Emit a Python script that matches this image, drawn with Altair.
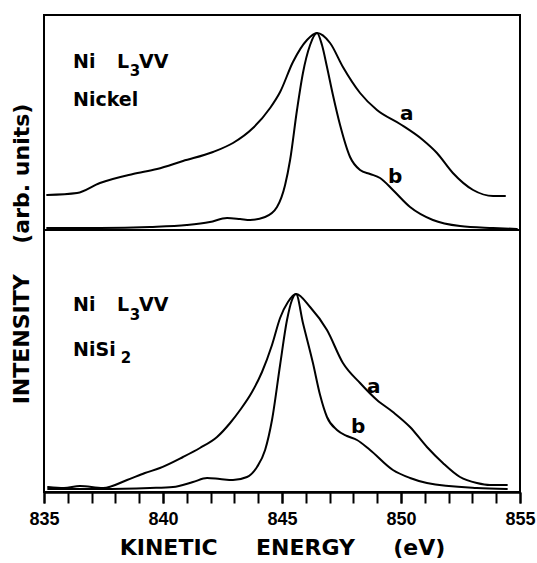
import altair as alt
import pandas as pd

# ---------------- data (intensity in arbitrary units) ----------------
# Top panel: Nickel
ni_a_energy = [835.13, 836.39, 837.35, 838.74, 839.75, 840.84, 842.10, 842.94, 843.78, 844.50,
               844.92, 845.46, 846.05, 846.47, 847.02, 847.56, 848.28, 848.99, 849.96, 850.92,
               851.51, 852.18, 853.03, 853.87, 854.37]
ni_a_int = [35, 37, 47, 56, 61, 69, 78, 87, 102, 122,
            138, 168, 190, 197, 187, 163, 137, 120, 106, 90,
            77, 57, 40, 34, 34]

ni_b_energy = [835.13, 837.35, 839.45, 841.00, 841.97, 842.69, 843.24, 843.66, 844.29, 844.79,
               845.13, 845.34, 845.63, 845.88, 846.18, 846.47, 846.68, 846.89, 847.14, 847.44,
               847.86, 848.28, 848.70, 849.12, 849.66, 850.38, 851.34, 852.48, 853.87, 854.87]
ni_b_int = [2, 2, 3, 5, 8, 12, 11, 10, 13, 23,
            45, 70, 120, 157, 185, 197, 185, 163, 135, 105,
            73, 60, 56, 52, 40, 23, 10, 4, 2, 1]

# Bottom panel: NiSi2
si_a_energy = [835.17, 835.84, 836.51, 837.48, 838.49, 839.24, 839.87, 840.84, 841.55, 842.27,
               842.82, 843.24, 843.74, 844.16, 844.58, 844.92, 845.25, 845.59, 846.18, 846.89,
               847.56, 848.28, 848.99, 849.66, 850.38, 851.09, 851.76, 852.48, 853.19, 853.74,
               854.45]
si_a_int = [5, 4, 6, 4, 12, 19, 24, 35, 44, 55,
            69, 82, 100, 120, 147, 174, 190, 198, 185, 162,
            129, 109, 92, 80, 65, 45, 29, 15, 9, 7,
            7]

si_b_energy = [835.17, 837.35, 839.45, 840.42, 841.26, 841.85, 842.39, 842.94, 843.53, 843.95,
               844.29, 844.58, 844.92, 845.21, 845.42, 845.59, 845.88, 846.30, 846.60, 846.89,
               847.31, 847.73, 848.15, 848.70, 849.66, 850.38, 851.09, 853.19, 854.45]
si_b_int = [3, 3, 4, 5, 10, 14, 13, 12, 15, 25,
            42, 72, 127, 172, 192, 198, 169, 129, 97, 75,
            62, 56, 52, 42, 22, 14, 9, 4, 3]

# Annotations (energy, intensity within panel)
lab_text = ["Ni", "L", "VV", "Nickel", "Ni", "L", "VV", "NiSi"]
lab_panel = ["Nickel", "Nickel", "Nickel", "Nickel", "NiSi2", "NiSi2", "NiSi2", "NiSi2"]
lab_energy = [836.22, 838.07, 838.99, 836.22, 836.22, 838.07, 838.99, 836.22]
lab_int = [168, 168, 168, 130, 187, 187, 187, 142]

sub_text = ["3", "3", "2"]
sub_panel = ["Nickel", "NiSi2", "NiSi2"]
sub_energy = [838.60, 838.60, 838.22]
sub_int = [159, 177, 134]

curve_text = ["a", "b", "a", "b"]
curve_panel = ["Nickel", "Nickel", "NiSi2", "NiSi2"]
curve_energy = [849.96, 849.45, 848.57, 847.90]
curve_int = [110, 47, 99, 59]

major_ticks = [835, 840, 845, 850, 855]
minor_ticks = list(range(835, 856))

PANEL_OFFSET = 262   # top panel baseline on the shared intensity axis
Y_MAX = 477
X_DOMAIN = [835, 855]

rows = []
for panel, curve, E, I in [("Nickel", "a", ni_a_energy, ni_a_int),
                           ("Nickel", "b", ni_b_energy, ni_b_int),
                           ("NiSi2", "a", si_a_energy, si_a_int),
                           ("NiSi2", "b", si_b_energy, si_b_int)]:
    for e, i in zip(E, I):
        rows.append({"panel": panel, "curve": curve, "energy": e, "intensity": i})
df = pd.DataFrame(rows)

lab_df = pd.DataFrame({"text": lab_text, "panel": lab_panel, "energy": lab_energy, "intensity": lab_int})
sub_df = pd.DataFrame({"text": sub_text, "panel": sub_panel, "energy": sub_energy, "intensity": sub_int})
cur_df = pd.DataFrame({"text": curve_text, "panel": curve_panel, "energy": curve_energy, "intensity": curve_int})

offset_expr = f"datum.intensity + (datum.panel == 'Nickel' ? {PANEL_OFFSET} : 0)"
x_scale = alt.Scale(domain=X_DOMAIN, nice=False, zero=False)
y_scale = alt.Scale(domain=[0, Y_MAX], nice=False, zero=False)

y_axis = alt.Axis(
    title="INTENSITY\u00a0\u00a0\u00a0\u00a0(arb.\u00a0units)",
    labels=False, ticks=False, domain=False, grid=False,
    titleFont="DejaVu Sans", titleFontSize=22, titleFontWeight="bold",
    titleColor="black", titlePadding=11,
)

# minor-tick axis (every 1 eV, no labels)
x_minor = alt.X(
    "energy:Q", scale=x_scale,
    axis=alt.Axis(
        values=minor_ticks, labels=False, title=None, orient="bottom",
        tickSize=11, tickWidth=2, tickColor="black",
        domainColor="black", domainWidth=2, grid=False,
    ),
)
# labelled axis (every 5 eV)
x_major = alt.X(
    "energy:Q", scale=x_scale,
    axis=alt.Axis(
        values=major_ticks, format="d", orient="bottom",
        tickSize=11, tickWidth=2, tickColor="black",
        domainColor="black", domainWidth=2,
        labelFont="Liberation Sans", labelFontSize=18, labelFontWeight="bold",
        labelColor="black", labelPadding=7, labelFlush=False, labelOverlap=False,
        grid=False,
        title="KINETIC\u00a0\u00a0\u00a0\u00a0\u00a0ENERGY\u00a0\u00a0\u00a0\u00a0\u00a0(eV)",
        titleFont="DejaVu Sans", titleFontSize=22, titleFontWeight="bold",
        titleColor="black", titlePadding=9,
    ),
)

lines = alt.Chart(df).transform_calculate(yplot=offset_expr).mark_line(
    color="black", strokeWidth=2, interpolate="monotone", strokeJoin="round", strokeCap="round"
).encode(
    x=x_minor,
    y=alt.Y("yplot:Q", scale=y_scale, axis=y_axis),
    detail=[alt.Detail("panel:N"), alt.Detail("curve:N")],
)

divider = alt.Chart(pd.DataFrame({"d": [0]})).mark_rule(color="black", strokeWidth=2).encode(
    y=alt.datum(PANEL_OFFSET)
)

labels = alt.Chart(lab_df).transform_calculate(yplot=offset_expr).mark_text(
    align="left", baseline="middle", font="DejaVu Sans", fontSize=19, fontWeight="bold", color="black"
).encode(
    x=alt.X("energy:Q", scale=x_scale, axis=None),
    y=alt.Y("yplot:Q", scale=y_scale, axis=y_axis),
    text="text:N",
)

subs = alt.Chart(sub_df).transform_calculate(yplot=offset_expr).mark_text(
    align="left", baseline="middle", font="DejaVu Sans", fontSize=15, fontWeight="bold", color="black"
).encode(
    x=alt.X("energy:Q", scale=x_scale, axis=None),
    y=alt.Y("yplot:Q", scale=y_scale, axis=y_axis),
    text="text:N",
)

curve_labels = alt.Chart(cur_df).transform_calculate(yplot=offset_expr).mark_text(
    align="left", baseline="alphabetic", font="DejaVu Sans", fontSize=20, fontWeight="bold", color="black"
).encode(
    x=x_major,
    y=alt.Y("yplot:Q", scale=y_scale, axis=y_axis),
    text="text:N",
)

chart = alt.layer(lines, divider, labels, subs, curve_labels).resolve_axis(x="independent").properties(
    width=476, height=477,
    autosize=alt.AutoSizeParams(type="none"),
    padding={"left": 44, "top": 15, "right": 17, "bottom": 71},
    background="white",
).configure_view(stroke="black", strokeWidth=2)

chart.save("out.html", embed_options={"renderer": "svg", "actions": False})
